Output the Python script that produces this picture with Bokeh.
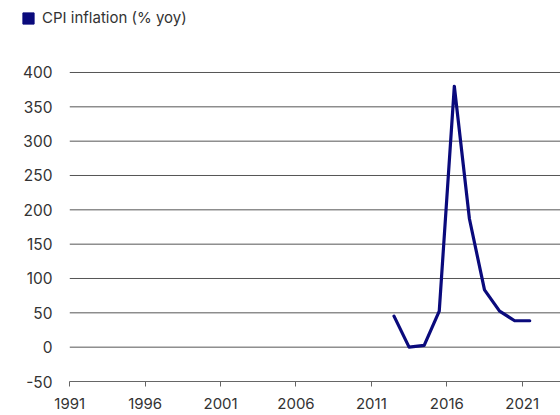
from bokeh.plotting import figure
from bokeh.models import Legend, LegendItem, Range1d, FixedTicker, ColumnDataSource, PrintfTickFormatter
from bokeh.embed import file_html
from bokeh.resources import INLINE

# ---- data ----
years = [2012, 2013, 2014, 2015, 2016, 2017, 2018, 2019, 2020, 2021]
cpi = [45.2, 0.0, 2.5, 52.5, 380.0, 187.0, 83.5, 52.5, 38.5, 38.5]
x_ticks = [1991, 1996, 2001, 2006, 2011, 2016, 2021]
y_ticks = [-50, 0, 50, 100, 150, 200, 250, 300, 350, 400]
series_label = "CPI inflation (% yoy)"
x_first, x_last = 1991, 2023.54

NAVY = "#0a0a7c"
TEXT = "#333333"
GRID = "#555555"
FONT = "Inter"

# annual values sit at mid-year
src = ColumnDataSource(dict(x=[y + 0.5 for y in years], y=cpi))

# The frame covers (almost) the whole canvas so that the legend at the top-left is not clipped;
# the axis line and gridlines start at 1991, the y labels are pulled inside.
p = figure(width=560, height=415, output_backend="svg", toolbar_location=None,
           x_range=Range1d(1987.07, x_last), y_range=Range1d(-50, 504.85),
           min_border_left=10, min_border_right=0, min_border_top=0, min_border_bottom=34)
p.outline_line_color = None
p.background_fill_color = None
p.border_fill_color = None

# horizontal gridlines at the y ticks (except the axis at -50), starting at 1991
grid_y = [t for t in y_ticks if t != y_ticks[0]]
p.segment(x0=[x_first] * len(grid_y), x1=[x_last] * len(grid_y), y0=grid_y, y1=grid_y,
          line_color=GRID, line_width=1)
p.xgrid.grid_line_color = None
p.ygrid.grid_line_color = None

line = p.line("x", "y", source=src, line_color=NAVY, line_width=3.2,
              line_join="round", line_cap="round")

# x axis
xa = p.xaxis[0]
xa.ticker = FixedTicker(ticks=x_ticks)
xa.formatter = PrintfTickFormatter(format="%d")
xa.bounds = (x_first, x_last)
xa.axis_line_color = "#666666"
xa.axis_line_width = 1
xa.major_tick_line_color = "#666666"
xa.major_tick_in = 0
xa.major_tick_out = 5
xa.minor_tick_line_color = None
xa.major_label_standoff = 11
xa.major_label_text_font = FONT
xa.major_label_text_font_size = "15px"
xa.major_label_text_color = TEXT

# y axis
ya = p.yaxis[0]
ya.ticker = FixedTicker(ticks=y_ticks)
ya.formatter = PrintfTickFormatter(format="%d")
ya.axis_line_color = None
ya.major_tick_line_color = None
ya.minor_tick_line_color = None
ya.major_tick_in = 0
ya.major_tick_out = 0
ya.major_label_standoff = -42
ya.major_label_text_font = FONT
ya.major_label_text_font_size = "15.5px"
ya.major_label_text_color = TEXT

# legend with square swatch (dummy, invisible point only feeds the legend)
sq = p.scatter(x=[float("nan")], y=[float("nan")], marker="square", color=NAVY)
legend = Legend(items=[LegendItem(label=series_label, renderers=[sq])],
                location=(4, 349.5), glyph_width=28, glyph_height=28,
                padding=0, margin=0, spacing=0, label_standoff=0,
                border_line_color=None, background_fill_alpha=0,
                label_text_font=FONT, label_text_font_size="15px",
                label_text_color=TEXT)
p.add_layout(legend)

open("out.html", "w").write(file_html(p, INLINE))
